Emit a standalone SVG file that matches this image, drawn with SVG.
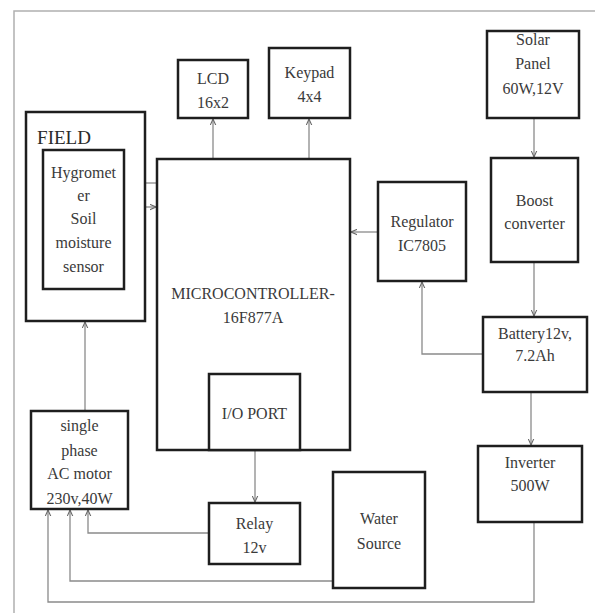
<svg xmlns="http://www.w3.org/2000/svg" width="595" height="613" viewBox="0 0 595 613">
<style>
.box{fill:#fff;stroke:#1e1e1e;stroke-width:2.5}
.frame{fill:none;stroke:#b0b0b0;stroke-width:1.5}
.c{fill:none;stroke:#8a8a8a;stroke-width:1.3}
text{font-family:"Times New Roman","Liberation Serif",serif;font-size:16px;fill:#3a3a3a;text-anchor:middle}
</style>
<defs>
<marker id="a" viewBox="0 0 10 10" refX="9" refY="5" markerWidth="7" markerHeight="7" orient="auto-start-reverse" markerUnits="userSpaceOnUse">
<path d="M0,1 L9,5 L0,9" fill="none" stroke="#666" stroke-width="1.5"/>
</marker>
</defs>
<rect width="595" height="613" fill="#fff"/>
<path class="frame" d="M595,11 H14 V613"/>
<g id="connectors">
<path class="c" d="M213,159 V119" marker-end="url(#a)"/>
<path class="c" d="M309,159 V119" marker-end="url(#a)"/>
<path class="c" d="M534,118 V157" marker-end="url(#a)"/>
<path class="c" d="M534,262 V316" marker-end="url(#a)"/>
<path class="c" d="M483,354 H422 V282" marker-end="url(#a)"/>
<path class="c" d="M378,232 H351" marker-end="url(#a)"/>
<path class="c" d="M531,392 V445" marker-end="url(#a)"/>
<path class="c" d="M157,183 H125" marker-end="url(#a)"/>
<path class="c" d="M124,207 H156" marker-end="url(#a)"/>
<path class="c" d="M85,411 V322" marker-end="url(#a)"/>
<path class="c" d="M255,450 V502" marker-end="url(#a)"/>
<path class="c" d="M209,533 H88 V510" marker-end="url(#a)"/>
<path class="c" d="M333,581 H70 V510" marker-end="url(#a)"/>
<path class="c" d="M534,522 V602 H48 V510" marker-end="url(#a)"/>
</g>
<g id="lcd"><rect class="box" x="178" y="60" width="70" height="58"/><text x="213" y="84">LCD</text><text x="213" y="108">16x2</text></g>
<g id="keypad"><rect class="box" x="269" y="48" width="81" height="70"/><text x="309.5" y="78">Keypad</text><text x="309.5" y="102">4x4</text></g>
<g id="solar"><rect class="box" x="487" y="31" width="92" height="87"/><text x="533" y="45">Solar</text><text x="533" y="69">Panel</text><text x="533" y="94">60W,12V</text></g>
<g id="boost"><rect class="box" x="491" y="158" width="87" height="104"/><text x="534.5" y="206">Boost</text><text x="534.5" y="229">converter</text></g>
<g id="field"><rect class="box" x="26" y="112" width="119" height="209"/><text x="64" y="144" style="font-size:19px;fill:#2a2a2a">FIELD</text></g>
<g id="hygrometer"><rect class="box" x="43" y="150" width="81" height="139"/><text x="83.5" y="178">Hygromet</text><text x="83.5" y="201">er</text><text x="83.5" y="224">Soil</text><text x="83.5" y="248">moisture</text><text x="83.5" y="272">sensor</text></g>
<g id="microcontroller"><rect class="box" x="157" y="159" width="193" height="291"/><text x="253" y="299">MICROCONTROLLER-</text><text x="253" y="323">16F877A</text></g>
<g id="ioport"><rect class="box" x="209" y="374" width="91" height="76"/><text x="254.5" y="419">I/O PORT</text></g>
<g id="regulator"><rect class="box" x="378" y="182" width="88" height="99"/><text x="422" y="227">Regulator</text><text x="422" y="251">IC7805</text></g>
<g id="battery"><rect class="box" x="483" y="317" width="104" height="75"/><text x="535" y="339">Battery12v,</text><text x="535" y="361">7.2Ah</text></g>
<g id="inverter"><rect class="box" x="478" y="446" width="104" height="76"/><text x="530" y="468">Inverter</text><text x="530" y="491">500W</text></g>
<g id="water"><rect class="box" x="333" y="472" width="92" height="116"/><text x="379" y="524">Water</text><text x="379" y="549">Source</text></g>
<g id="relay"><rect class="box" x="209" y="503" width="91" height="61"/><text x="254.5" y="529">Relay</text><text x="254.5" y="553">12v</text></g>
<g id="motor"><rect class="box" x="31" y="411" width="97" height="98"/><text x="79.5" y="431">single</text><text x="79.5" y="456">phase</text><text x="79.5" y="479">AC motor</text><text x="79.5" y="504">230v,40W</text></g>
</svg>
